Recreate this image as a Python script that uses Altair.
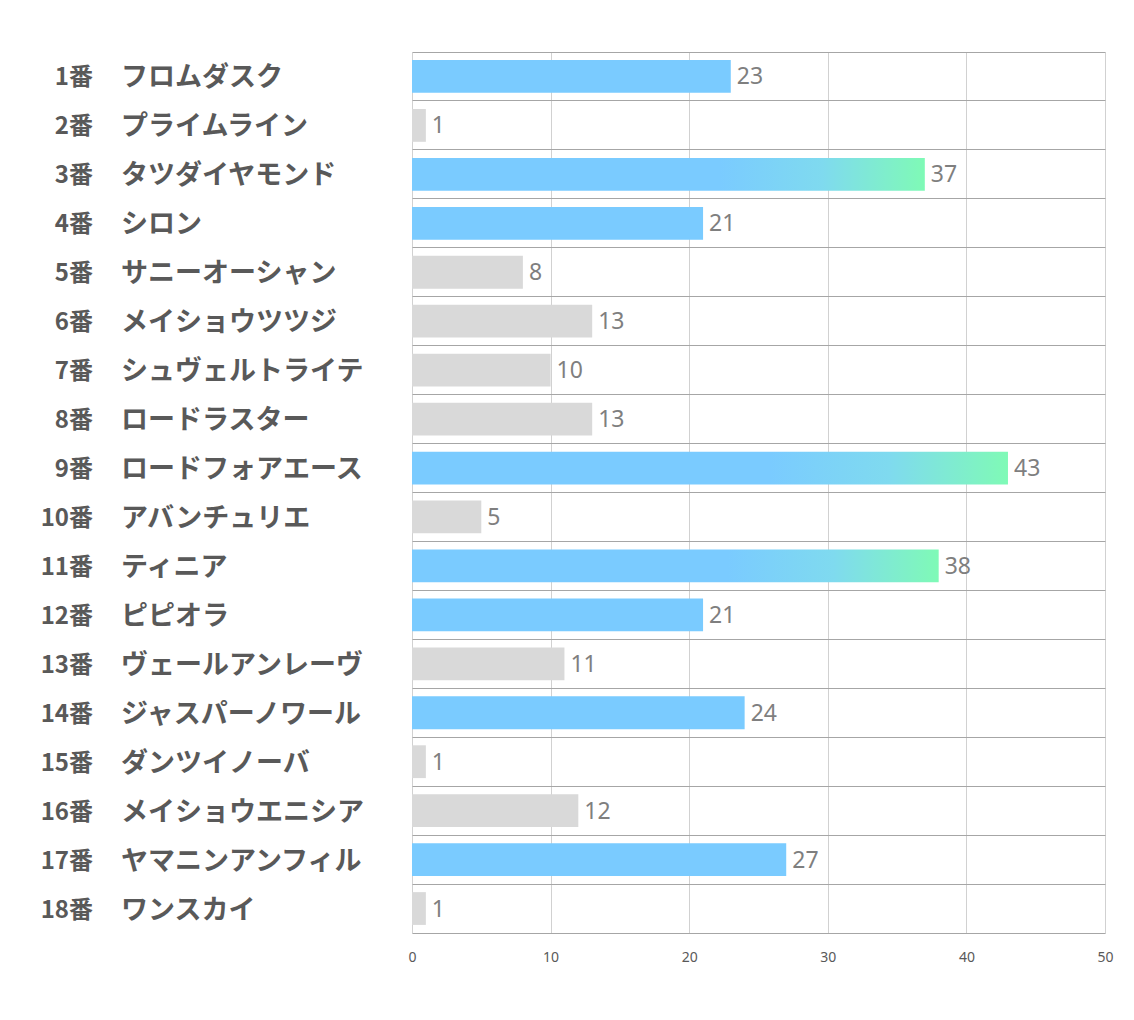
import altair as alt
import pandas as pd

nums = list(range(1, 19))
names = ["フロムダスク", "プライムライン", "タツダイヤモンド", "シロン", "サニーオーシャン",
         "メイショウツツジ", "シュヴェルトライテ", "ロードラスター", "ロードフォアエース",
         "アバンチュリエ", "ティニア", "ピピオラ", "ヴェールアンレーヴ", "ジャスパーノワール",
         "ダンツイノーバ", "メイショウエニシア", "ヤマニンアンフィル", "ワンスカイ"]
values = [23, 1, 37, 21, 8, 13, 10, 13, 43, 5, 38, 21, 11, 24, 1, 12, 27, 1]
x_ticks = [0, 10, 20, 30, 40, 50]

df = pd.DataFrame({
    "num": nums,
    "numlabel": [f"{n}番" for n in nums],
    "name": names,
    "value": values,
})
df["tier"] = ["grad" if v >= 30 else ("blue" if v >= 20 else "gray") for v in values]

FONT = "Noto Sans CJK JP"
NUMFONT = "Noto Sans"

y_enc = alt.Y("num:O", title=None, scale=alt.Scale(paddingInner=0, paddingOuter=0))
x_enc = alt.X("value:Q", title=None, scale=alt.Scale(domain=[0, 50], nice=False),
              axis=alt.Axis(values=x_ticks, format="d"))

base = alt.Chart(df)

solid = base.transform_filter("datum.tier != 'grad'").mark_bar(
    height={"band": 0.67}
).encode(
    x=x_enc,
    y=y_enc,
    color=alt.Color("tier:N", legend=None,
                    scale=alt.Scale(domain=["blue", "gray"], range=["#7ACBFF", "#D9D9D9"])),
)

grad = base.transform_filter("datum.tier == 'grad'").mark_bar(
    height={"band": 0.67},
    color=alt.Gradient(
        gradient="linear",
        stops=[alt.GradientStop(color="#7ACBFF", offset=0),
               alt.GradientStop(color="#7ACBFF", offset=0.6),
               alt.GradientStop(color="#7FDAEF", offset=0.8),
               alt.GradientStop(color="#7FFAB6", offset=1)],
        x1=0, x2=1, y1=0, y2=0,
    ),
).encode(
    x=x_enc,
    y=y_enc,
)

vals = base.mark_text(align="left", baseline="middle", dx=6, dy=1, font=NUMFONT,
                      fontSize=23, color="#7F7F7F").encode(
    x=x_enc,
    y=y_enc,
    text=alt.Text("value:Q"),
)

numtext = base.mark_text(align="right", baseline="middle", dy=2, font=FONT, fontWeight="bold",
                         fontSize=24, color="#595959").encode(
    x=alt.value(-319),
    y=y_enc,
    text="numlabel:N",
)

nametext = base.mark_text(align="left", baseline="middle", dy=2, font=FONT, fontWeight="bold",
                          fontSize=27, color="#595959").encode(
    x=alt.value(-291),
    y=y_enc,
    text="name:N",
)

chart = alt.layer(solid, grad, vals, numtext, nametext).properties(
    width=693, height=881,
    autosize=alt.AutoSizeParams(type="none"),
    padding={"left": 404, "top": 44, "right": 20, "bottom": 60},
).configure(
    background="white",
).configure_view(
    stroke=None,
).configure_axisX(
    grid=True, gridColor="#8C8C8C", gridOpacity=0.4,
    ticks=False, domain=True, domainColor="#A6A6A6",
    labelFont=NUMFONT, labelFontSize=14, labelColor="#595959",
    labelPadding=17, labelFlush=False, zindex=1, title=None,
).configure_axisY(
    labels=False, ticks=False, domain=False, grid=True,
    bandPosition=0, gridColor="#A6A6A6", gridWidth=1, title=None,
)

chart.save("out.html", embed_options={"renderer": "svg", "actions": False})
